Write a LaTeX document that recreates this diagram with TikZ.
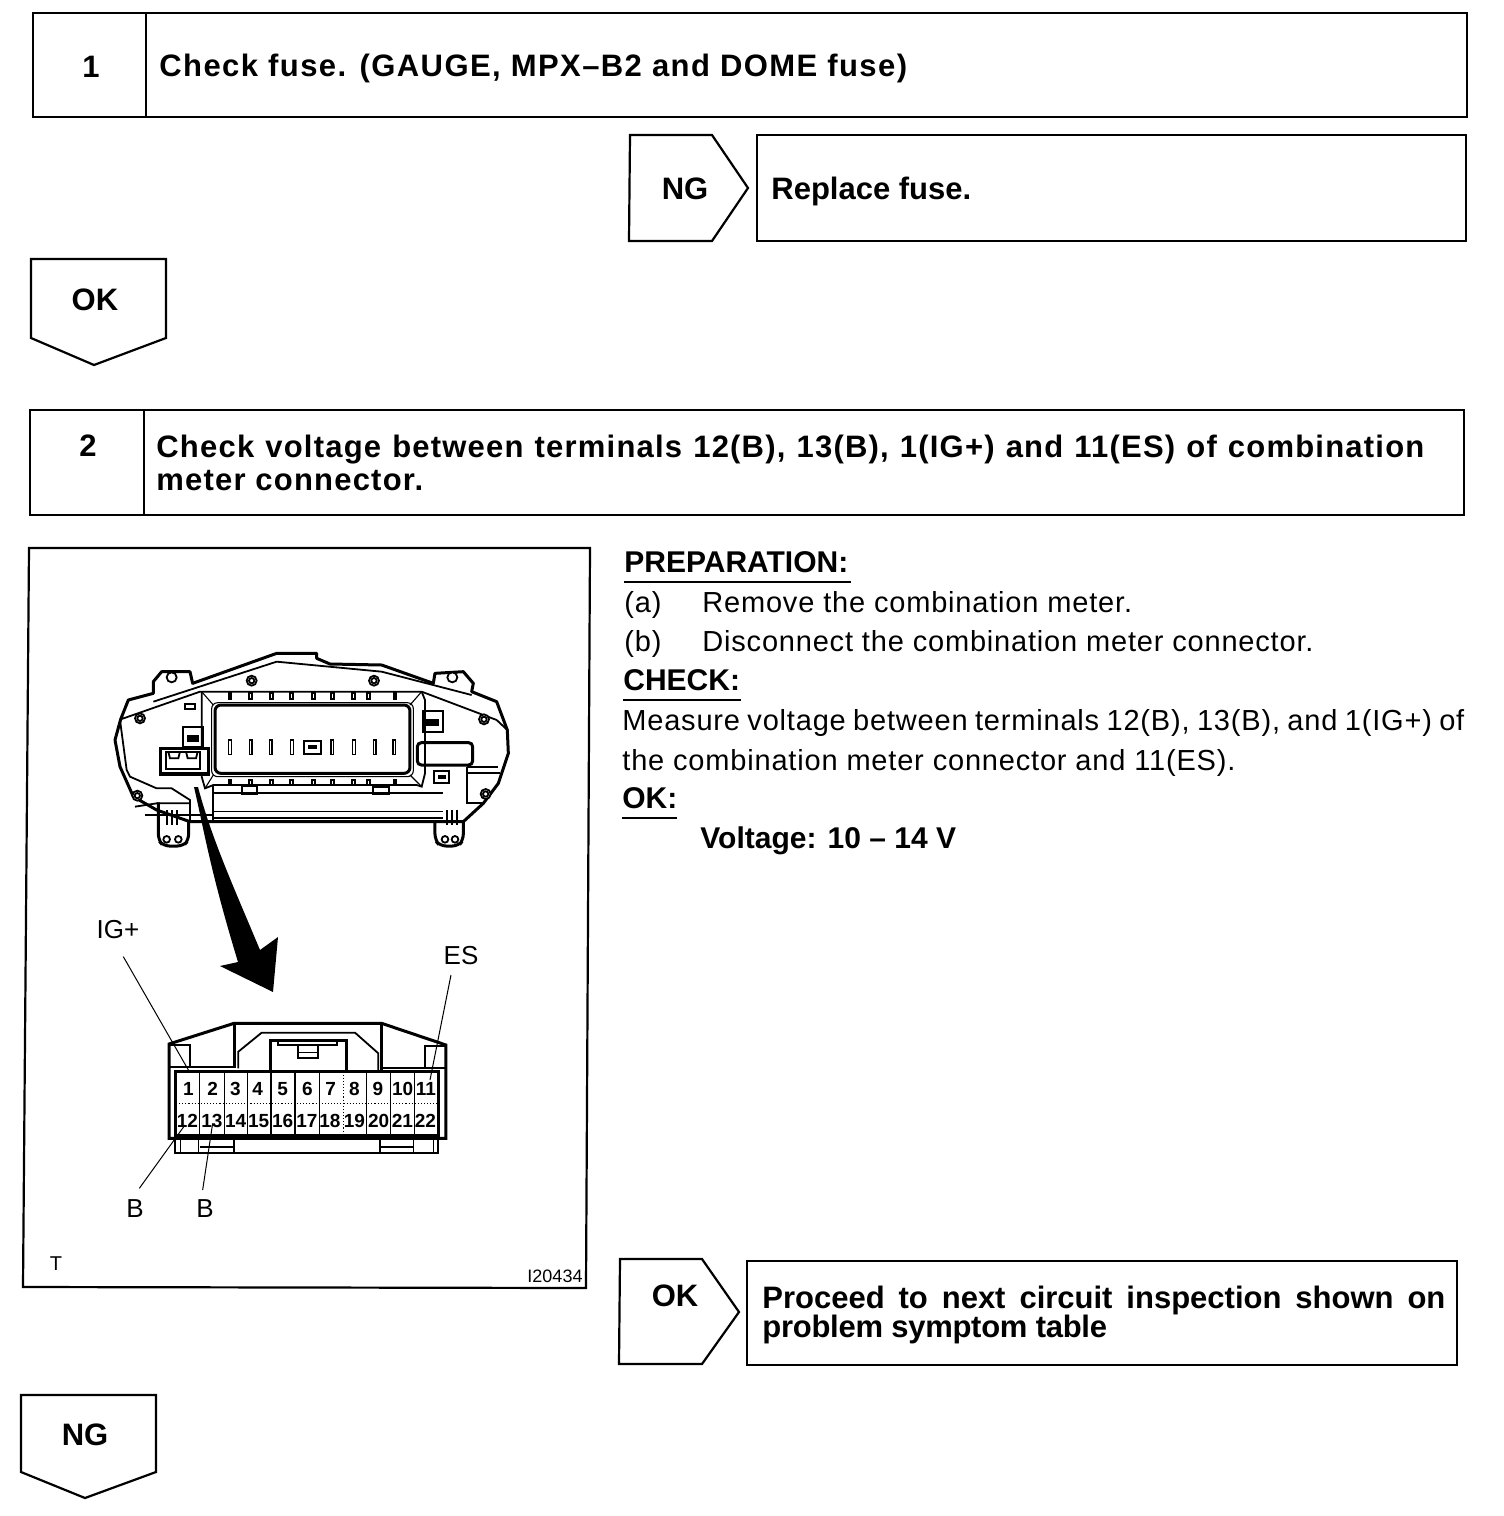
\documentclass[tikz,border=0pt]{standalone}
\usepackage{fontspec}
\setmainfont{Liberation Sans}
\newcommand{\tx}[1]{\fontsize{\dimexpr#1pt/2\relax}{\dimexpr#1pt/2\relax}\selectfont}
\newcommand{\spc}[1]{\addfontfeature{LetterSpace=#1}}
\tikzset{
  x=0.5pt,y=-0.5pt,
  boxline/.style={draw=black,line width=1.1pt,line join=miter},
  thinpart/.style={draw=black,line width=0.55pt},
  midpart/.style={draw=black,line width=0.9pt},
  thickpart/.style={draw=black,line width=1.5pt},
  heavypart/.style={draw=black,line width=1.7pt},
  leader/.style={draw=black,line width=0.5pt},
  head/.style={inner sep=0pt,anchor=base west,font=\tx{31}\bfseries},
  numlab/.style={inner sep=0pt,anchor=base,font=\tx{31}\bfseries},
  body/.style={inner sep=0pt,anchor=base west,font=\tx{29}\spc{2.8}},
  bodybold/.style={inner sep=0pt,anchor=base west,font=\tx{30}\bfseries},
  plab/.style={inner sep=0pt,anchor=center,font=\tx{26}},
  cell/.style={inner sep=0pt,anchor=center,font=\tx{19}\bfseries},
  screw/.style={draw=black,line width=0.9pt,fill=white},
}
\begin{document}
\begin{tikzpicture}
\useasboundingbox (0,0) rectangle (1504,1516);
% step 1
\draw[boxline] (33,13) rectangle (1467,117);
\draw[boxline] (146,13) -- (146,117);
\node[numlab] (n1) at (91,77) {1};
\node[head] (t1) at (159,76) {\spc{4.6}Check fuse. (GAUGE, MPX--B2 and DOME fuse)};
% NG replace
\draw[boxline] (630,135) -- (712,135) -- (748,188) -- (712,241) -- (629,241) -- cycle;
\node[numlab] (ng1) at (685,199) {NG};
\draw[boxline] (757,135) rectangle (1466,241);
\node[head] (t1b) at (771,199) {Replace fuse.};
% OK down
\draw[boxline] (31,259) -- (166,259) -- (166,338) -- (94,365) -- (31,338) -- cycle;
\node[numlab] (ok1) at (95,310) {OK};
% step 2
\draw[boxline] (30,410) rectangle (1464,515);
\draw[boxline] (144,410) -- (144,515);
\node[numlab] (n2) at (88,456) {2};
\node[head] (t2a) at (156,457) {\spc{3.9}\makebox[634pt][s]{Check voltage between terminals 12(B), 13(B), 1(IG+) and 11(ES) of combination}};
\node[head] (t2b) at (156,490) {\spc{3.9}meter connector.};
% figure frame
\draw[boxline] (29,548) -- (590,548) -- (586,1288) -- (23,1287) -- cycle;
\node[plab,font=\tx{20}] (tmark) at (56,1264) {T};
\node[plab,font=\tx{18}] (code) at (555,1276) {I20434};
% preparation text
\node[bodybold] (prep) at (624,572) {PREPARATION:};
\draw[thinpart] (624,582) -- (851,582);
\node[body] (a1) at (624,612) {(a)};
\node[body] (a2) at (702,612) {Remove the combination meter.};
\node[body] (b1) at (624,651) {(b)};
\node[body] (b2) at (702,651) {Disconnect the combination meter connector.};
\node[bodybold] (chk) at (623,690) {CHECK:};
\draw[thinpart] (623,700) -- (741,700);
\node[body] (m1) at (622,730) {\makebox[421pt][s]{Measure voltage between terminals 12(B), 13(B), and 1(IG+) of}};
\node[body] (m2) at (622,770) {the combination meter connector and 11(ES).};
\node[bodybold] (okl) at (622,808) {OK:};
\draw[thinpart] (622,818) -- (677,818);
\node[bodybold] (volt) at (700,848) {Voltage: 10 -- 14 V};
% OK proceed
\draw[boxline] (620,1259) -- (702,1259) -- (739,1312) -- (702,1364) -- (619,1364) -- cycle;
\node[numlab] (ok2) at (675,1306) {OK};
\draw[boxline] (747,1261) rectangle (1457,1365);
\node[head] (t3a) at (762,1308) {\makebox[341.5pt][s]{Proceed to next circuit inspection shown on}};
\node[head] (t3b) at (762,1337) {\spc{-0.9}problem symptom table};
% NG down
\draw[boxline] (21,1395) -- (156,1395) -- (156,1472) -- (85,1498) -- (21,1472) -- cycle;
\node[numlab] (ng2) at (85,1445) {NG};
% meter (zoom coordinates)
\begin{scope}[shift={(100,640)},scale=1/3]
\draw[thickpart,line join=round] (45,300) -- (62,238) -- (85,180) -- (160,160) -- (160,125) -- (185,95) -- (270,95) -- (278,130) -- (530,40) -- (650,40) -- (650,55) -- (690,72) -- (845,75) -- (1000,130) -- (1005,100) -- (1090,95) -- (1120,130) -- (1115,155) -- (1190,185) -- (1222,270) -- (1225,340) -- (1195,430) -- (1150,490) -- (1090,545) -- (340,545) -- (270,545) -- (170,510) -- (100,470) -- (60,380) -- cycle;
\draw[midpart] (62,238) -- (300,155) -- (965,155) -- (1190,240);
\draw[midpart] (160,185) -- (530,65) -- (845,95) -- (1115,165);
\draw[midpart] (1190,240) -- (1222,270);
\draw[midpart] (60,240) -- (80,390) -- (90,410) -- (170,445) -- (215,445) -- (270,480) -- (270,545);
\draw[midpart] (1100,380) -- (1195,380);
\draw[midpart] (1100,380) -- (1100,490) -- (1150,490);
\draw[midpart] (1100,400) -- (1200,400);
\draw[midpart] (105,500) -- (170,490) -- (270,490);
\draw[thinpart] (135,525) -- (340,525);
% display frame
\draw[midpart] (305,155) -- (305,410) -- (315,445) -- (340,435) -- (950,435) -- (965,440) -- (975,400) -- (975,180) -- (965,155);
\draw[thinpart] (305,155) -- (340,195);
\draw[thinpart] (965,155) -- (930,195);
\draw[thinpart] (315,445) -- (340,405);
\draw[thinpart] (965,440) -- (930,405);
\draw[thickpart,rounded corners=3pt] (345,195) rectangle (930,400);
\draw[thinpart,rounded corners=3pt] (335,188) rectangle (940,410);
% lower band
\draw[midpart] (340,435) -- (340,540);
\draw[midpart] (340,460) -- (1030,460);
\draw[thinpart] (340,515) -- (1030,515);
\draw[midpart] (340,535) -- (1030,535);
% slots
\foreach \sx in {390,452,512,576,697,762,824,883}{
  \draw[thinpart] (\sx-4,300) rectangle (\sx+4,344);
}
\foreach \sx in {390,452,515,575,640,697,760,806,885}{
  \draw[midpart] (\sx-4,158) rectangle (\sx+4,176);
  \draw[midpart] (\sx-4,420) rectangle (\sx+4,435);
}
% latch clips
\draw[midpart] (612,302) rectangle (664,342);
\fill[black] (625,315) rectangle (652,328);
\draw[midpart] (968,212) rectangle (1028,275);
\fill[black] (978,238) rectangle (1016,258);
\draw[midpart] (248,260) rectangle (308,322);
\fill[black] (262,285) rectangle (298,305);
\draw[midpart] (1002,392) rectangle (1048,430);
\fill[black] (1014,405) rectangle (1038,418);
\draw[midpart] (425,438) rectangle (470,462);
\draw[midpart] (820,440) rectangle (868,462);
\draw[midpart] (256,192) rectangle (286,206);
% thick black connector socket
\draw[heavypart,fill=white] (182,325) rectangle (325,402);
\draw[midpart] (198,335) rectangle (300,388);
\draw[midpart] (205,335) -- (210,355) -- (235,355) -- (240,335);
\draw[midpart] (258,335) -- (263,355) -- (288,355) -- (293,335);
% plate on the right
\draw[thickpart,rounded corners=2pt] (952,308) rectangle (1118,375);
% screws
\foreach \sx/\sy in {120/235,455/122,822/122,1152/238,112/467,1157/462}{
  \draw[screw] (\sx,\sy) circle (15);
  \draw[screw] (\sx,\sy) circle (8);
}
\draw[screw] (215,112) circle (15);
\draw[screw] (1057,112) circle (15);
% bottom brackets
\draw[thickpart,rounded corners=3pt] (175,487) -- (175,600) -- (190,618) -- (250,618) -- (266,600) -- (266,545);
\draw[thickpart,rounded corners=3pt] (1005,545) -- (1005,600) -- (1020,618) -- (1075,618) -- (1090,600) -- (1090,545);
\foreach \sx in {200,235,1035,1065}{\draw[midpart] (\sx,598) circle (10);}
\foreach \sx in {200,215,232,1040,1055,1070}{\draw[midpart] (\sx,510) -- (\sx,555);}
\end{scope}
% big arrow
\fill[black] (194,787) .. controls (204,830) and (210,870) .. (238,962) -- (220,966) -- (273,992) -- (278,937) -- (260,950) .. controls (235,890) and (212,840) .. (198,787) -- cycle;
% connector (zoom coordinates)
\begin{scope}[shift={(90,900)},scale=1/3]
\draw[thickpart] (237,715) -- (237,432) -- (432,370) -- (875,370) -- (1068,435) -- (1068,715) -- cycle;
\draw[thickpart] (432,370) -- (432,505);
\draw[thickpart] (875,370) -- (875,510);
\draw[midpart] (237,502) -- (432,502);
\draw[midpart] (875,505) -- (1068,505);
\draw[midpart] (240,435) -- (300,435) -- (300,502);
\draw[midpart] (1005,505) -- (1005,437) -- (1065,437);
\draw[midpart] (445,505) -- (445,455) -- (515,398) -- (795,398) -- (865,460) -- (865,510);
\draw[thickpart] (540,515) -- (540,420) -- (770,420) -- (770,515);
\draw[midpart] (565,422) -- (565,435) -- (740,435) -- (740,422);
\draw[midpart] (625,438) -- (625,475) -- (685,475) -- (685,438);
\draw[thinpart] (625,458) -- (685,458);
\draw[thickpart] (255,515) rectangle (1045,705);
\draw[thinpart,densely dotted] (258,610) -- (1042,610);
\foreach \cx in {328,403,472,615,688,830,902,973}{\draw[thinpart] (\cx,515) -- (\cx,705);}
\draw[midpart] (542,515) -- (542,705);
\draw[thinpart,densely dotted] (760,515) -- (760,705);
% lower strip
\draw[midpart] (255,715) -- (255,758) -- (1045,758) -- (1045,715);
\foreach \cx in {272,325,432,870,970,1030}{\draw[thinpart] (\cx,715) -- (\cx,758);}
\draw[midpart] (330,740) -- (430,740);
\draw[midpart] (870,740) -- (970,740);
% pin numbers
\foreach \nn/\cx in {1/295,2/368,3/436,4/503,5/578,6/652,7/722,8/793,9/864,10/938,11/1008}{
  \node[cell] (p\nn) at (\cx,568) {\nn};
}
\foreach \nn/\cx in {12/292,13/366,14/437,15/506,16/578,17/651,18/720,19/793,20/866,21/937,22/1006}{
  \node[cell] (p\nn) at (\cx,664) {\nn};
}
% leader ends
\coordinate (igS) at (100,170);
\coordinate (igE) at (298,515);
\coordinate (esS) at (1083,225);
\coordinate (esE) at (1020,540);
\coordinate (baS) at (148,865);
\coordinate (baE) at (285,675);
\coordinate (bbS) at (338,870);
\coordinate (bbE) at (368,670);
\draw[leader] (igS) -- (igE);
\draw[leader] (esS) -- (esE);
\draw[leader] (baS) -- (baE);
\draw[leader] (bbS) -- (bbE);
\end{scope}
\node[plab] (lig) at (118,930) {IG+};
\node[plab] (les) at (461,956) {ES};
\node[plab] (lb1) at (135,1209) {B};
\node[plab] (lb2) at (205,1209) {B};
\end{tikzpicture}
\end{document}
